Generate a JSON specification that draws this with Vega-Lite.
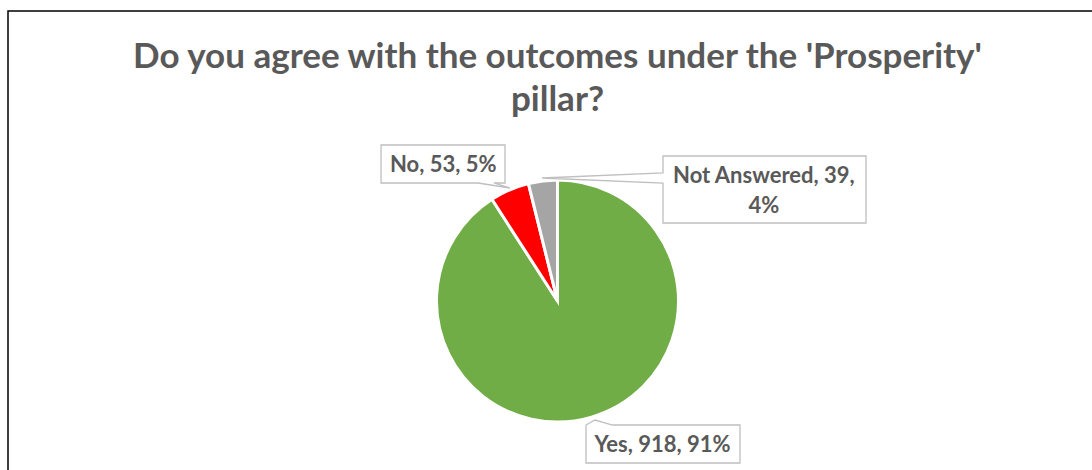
{
  "$schema": "https://vega.github.io/schema/vega-lite/v6.json",
  "width": 1099,
  "height": 580,
  "autosize": {"type": "none"},
  "padding": {"left": 8, "top": 11, "right": 0, "bottom": 0},
  "background": "white",
  "view": {"stroke": "#000000", "strokeWidth": 1.5},
  "config": {"view": {"stroke": "#000000", "strokeWidth": 1.5}, "style": {"cell": {"stroke": "#000000", "strokeWidth": 1.5}}, "font": "Lato"},
  "title": {
    "text": ["Do you agree with the outcomes under the 'Prosperity'", "pillar?"],
    "font": "Lato",
    "fontSize": 35,
    "fontWeight": "bold",
    "color": "#595959",
    "anchor": "middle",
    "frame": "group",
    "lineHeight": 43,
    "baseline": "alphabetic",
    "offset": -135
  },
  "data": {
    "values": [
      {"answer": "Yes", "count": 918, "label": "Yes, 918, 91%"},
      {"answer": "No", "count": 53, "label": "No, 53, 5%"},
      {"answer": "Not Answered", "count": 39, "label": "Not Answered, 39,\n4%"}
    ]
  },
  "transform": [
    {"calculate": "indexof(['Yes','No','Not Answered'], datum.answer)", "as": "idx"},
    {"stack": "count", "groupby": [], "sort": [{"field": "idx", "order": "ascending"}], "as": ["c0", "c1"]},
    {"calculate": "(datum.c0 + datum.c1) / 2", "as": "cmid"}
  ],
  "layer": [
    {
      "mark": {"type": "arc", "radius": 121, "stroke": "white", "strokeWidth": 3},
      "encoding": {
        "theta": {"field": "count", "type": "quantitative", "stack": true},
        "order": {"field": "idx", "type": "quantitative", "sort": "ascending"},
        "color": {
          "field": "answer",
          "type": "nominal",
          "scale": {"domain": ["Yes", "No", "Not Answered"], "range": ["#70AD47", "#FF0000", "#A5A5A5"]},
          "legend": null
        }
      }
    },
    {
      "transform": [{"filter": "datum.answer === 'No'"}],
      "mark": {"type": "point", "shape": "M-176.5,-156H-52.5V-118H-63.5L-47.5,-113L-79.5,-118H-176.5Z", "size": 4, "filled": true, "fill": "white", "stroke": "#BFBFBF", "strokeWidth": 1.3, "opacity": 1},
      "encoding": {}
    },
    {
      "transform": [{"filter": "datum.answer === 'Not Answered'"}],
      "mark": {"type": "point", "shape": "M105.5,-145H308.5V-78H105.5V-118L-15.5,-123L105.5,-128Z", "size": 4, "filled": true, "fill": "white", "stroke": "#BFBFBF", "strokeWidth": 1.3, "opacity": 1},
      "encoding": {}
    },
    {
      "transform": [{"filter": "datum.answer === 'Yes'"}],
      "mark": {"type": "point", "shape": "M28.5,124L37.5,119L55,124H182.5V162H28.5Z", "size": 4, "filled": true, "fill": "white", "stroke": "#BFBFBF", "strokeWidth": 1.3, "opacity": 1},
      "encoding": {}
    },
    {
      "transform": [{"filter": "datum.answer === 'No'"}],
      "mark": {"type": "text", "font": "Lato", "fontSize": 22, "fontWeight": "bold", "color": "#595959", "align": "center", "baseline": "alphabetic", "dx": -54.8, "dy": 8.4},
      "encoding": {
        "theta": {"field": "cmid", "type": "quantitative", "stack": null},
        "radius": {"value": 150},
        "text": {"field": "label", "type": "nominal"}
      }
    },
    {
      "transform": [{"filter": "datum.answer === 'Not Answered'"}],
      "mark": {"type": "text", "font": "Lato", "fontSize": 22, "fontWeight": "bold", "color": "#595959", "align": "center", "baseline": "alphabetic", "lineBreak": "\n", "lineHeight": 30.6, "dx": 224.5, "dy": 30.6},
      "encoding": {
        "theta": {"field": "cmid", "type": "quantitative", "stack": null},
        "radius": {"value": 150},
        "text": {"field": "label", "type": "nominal"}
      }
    },
    {
      "transform": [{"filter": "datum.answer === 'Yes'"}],
      "mark": {"type": "text", "font": "Lato", "fontSize": 22, "fontWeight": "bold", "color": "#595959", "align": "center", "baseline": "alphabetic", "dx": 62.7, "dy": 6.8},
      "encoding": {
        "theta": {"field": "cmid", "type": "quantitative", "stack": null},
        "radius": {"value": 150},
        "text": {"field": "label", "type": "nominal"}
      }
    }
  ]
}
